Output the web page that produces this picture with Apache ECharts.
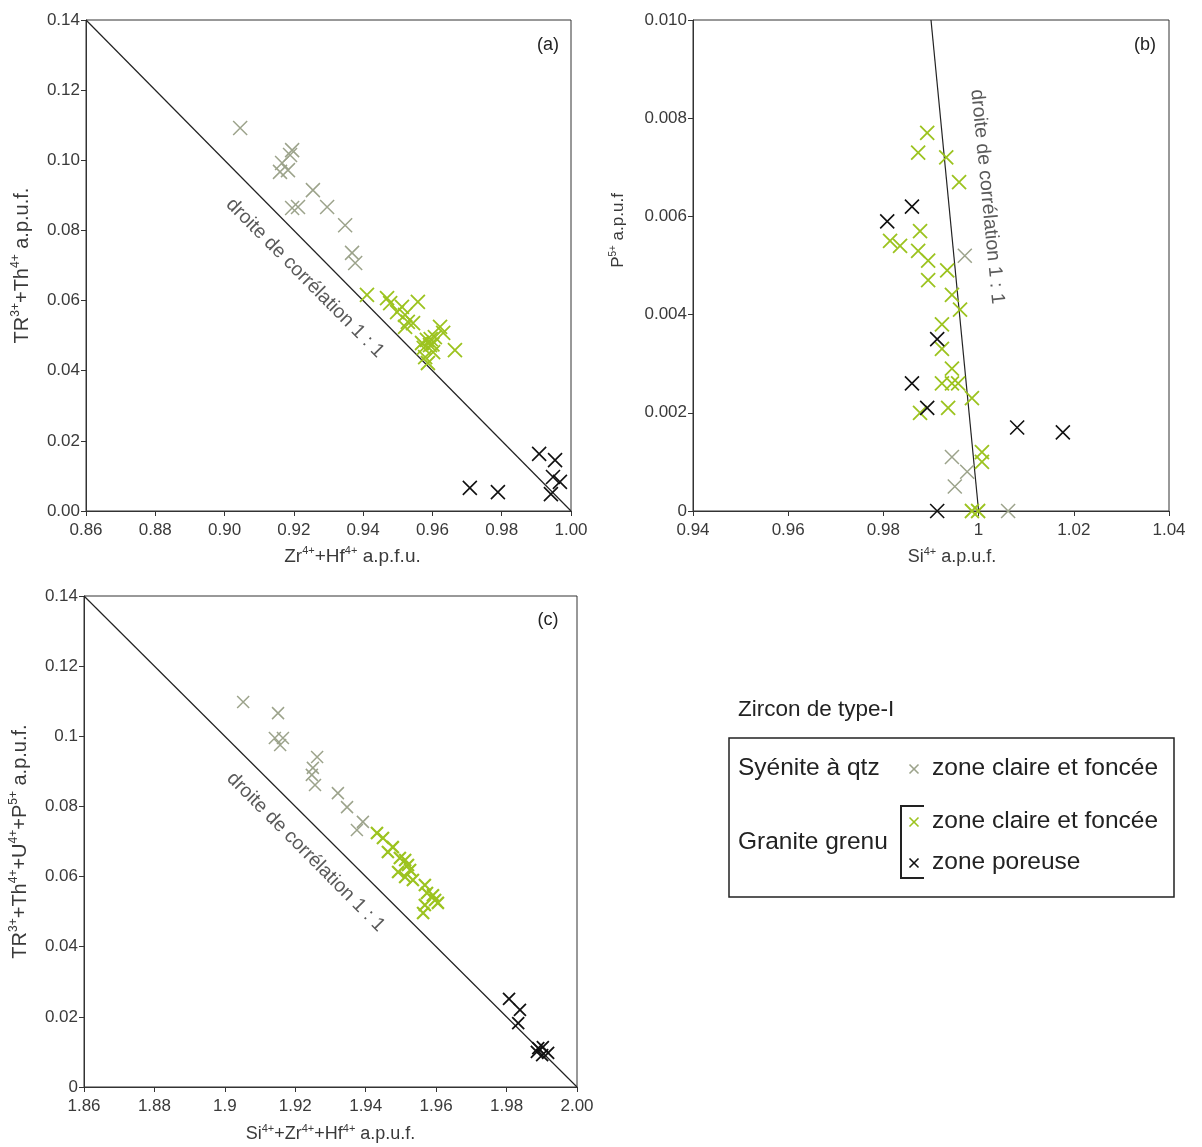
<!DOCTYPE html>
<html>
<head>
<meta charset="utf-8">
<script src="https://cdn.jsdelivr.net/npm/echarts@6/dist/echarts.min.js"></script>
<style>
html,body{margin:0;padding:0;background:#fff;}
#main{width:1202px;height:1147px;}
</style>
</head>
<body>
<div id="main"></div>
<script>
// ---------- DATA ----------
// Panel (a): Zr+Hf (x) vs TR+Th (y)
const aSyenite = [[0.9045,0.1092],[0.9195,0.1029],[0.9189,0.1015],[0.9166,0.0992],[0.9160,0.0967],[0.9183,0.0972],[0.9255,0.0915],[0.9195,0.0864],[0.9212,0.0867],[0.9296,0.0867],[0.9348,0.0815],[0.9368,0.0736],[0.9377,0.0707]];
const aGranite = [[0.9411,0.0616],[0.9469,0.0607],[0.9478,0.0593],[0.9512,0.0582],[0.9558,0.0596],[0.9498,0.0567],[0.9521,0.0559],[0.9529,0.0539],[0.9521,0.0525],[0.9544,0.0536],[0.9570,0.0479],[0.9584,0.0488],[0.9593,0.0473],[0.9607,0.0496],[0.9622,0.0525],[0.9602,0.0453],[0.9579,0.0439],[0.9587,0.0422],[0.9665,0.0459],[0.9631,0.0508],[0.9595,0.0490],[0.9575,0.0465],[0.9600,0.0475]];
const aPoreuse = [[0.9908,0.0163],[0.9954,0.0145],[0.9948,0.0097],[0.9968,0.0083],[0.9942,0.0048],[0.9708,0.0066],[0.9789,0.0054]];
const aLine = [[0.86,0.14],[1.00,0]];

// Panel (b): Si (x) vs P (y)
const bSyenite = [[0.9971,0.0052],[0.9944,0.0011],[0.9976,0.0008],[0.9950,0.0005],[1.0062,0]];
const bGranite = [[0.9892,0.0077],[0.9873,0.0073],[0.9932,0.0072],[0.9959,0.0067],[0.9877,0.0057],[0.9814,0.0055],[0.9835,0.0054],[0.9873,0.0053],[0.9894,0.0051],[0.9934,0.0049],[0.9894,0.0047],[0.9944,0.0044],[0.9961,0.0041],[0.9923,0.0038],[0.9923,0.0033],[0.9944,0.0029],[0.9923,0.0026],[0.9944,0.0026],[0.9957,0.0026],[0.9986,0.0023],[0.9877,0.0020],[0.9936,0.0021],[1.0007,0.0012],[1.0007,0.0010],[0.9986,0],[0.9999,0]];
const bPoreuse = [[0.9808,0.0059],[0.9860,0.0062],[0.9913,0.0035],[0.9860,0.0026],[0.9892,0.0021],[1.0081,0.0017],[1.0177,0.0016],[0.9913,0]];
const bLine = [[0.99,0.01],[1.00,0]];

// Panel (c): Si+Zr+Hf (x) vs TR+Th+U+P (y)
const cSyenite = [[1.9052,0.1098],[1.9151,0.1066],[1.9142,0.0995],[1.9165,0.0995],[1.9157,0.0975],[1.9262,0.0941],[1.9250,0.0910],[1.9247,0.0890],[1.9256,0.0861],[1.9321,0.0838],[1.9347,0.0798],[1.9375,0.0733],[1.9392,0.0756]];
const cGranite = [[1.9432,0.0724],[1.9449,0.0710],[1.9477,0.0684],[1.9463,0.0670],[1.9497,0.0653],[1.9512,0.0647],[1.9520,0.0633],[1.9526,0.0619],[1.9492,0.0613],[1.9512,0.0599],[1.9534,0.0590],[1.9568,0.0576],[1.9574,0.0553],[1.9591,0.0547],[1.9597,0.0533],[1.9568,0.0519],[1.9563,0.0496],[1.9605,0.0525]];
const cPoreuse = [[1.9807,0.0251],[1.9838,0.0220],[1.9833,0.0182],[1.9890,0.0111],[1.9901,0.0091],[1.9918,0.0097],[1.9886,0.0100],[1.9903,0.0114]];
const cLine = [[1.86,0.14],[2.00,0]];

// Tick labels
const aXTicks = ['0.86','0.88','0.90','0.92','0.94','0.96','0.98','1.00'];
const aYTicks = ['0.00','0.02','0.04','0.06','0.08','0.10','0.12','0.14'];
const bXTicks = ['0.94','0.96','0.98','1','1.02','1.04'];
const bYTicks = ['0','0.002','0.004','0.006','0.008','0.010'];
const cXTicks = ['1.86','1.88','1.9','1.92','1.94','1.96','1.98','2.00'];
const cYTicks = ['0','0.02','0.04','0.06','0.08','0.1','0.12','0.14'];

// Axis titles: [text, superscript] pieces
const aXTitle = [['Zr','4+'],['+Hf','4+'],[' a.p.f.u.','']];
const aYTitle = [['TR','3+'],['+Th','4+'],[' a.p.u.f.','']];
const bXTitle = [['Si','4+'],[' a.p.u.f.','']];
const bYTitle = [['P','5+'],[' a.p.u.f','']];
const cXTitle = [['Si','4+'],['+Zr','4+'],['+Hf','4+'],[' a.p.u.f.','']];
const cYTitle = [['TR','3+'],['+Th','4+'],['+U','4+'],['+P','5+'],[' a.p.u.f.','']];

// ---------- STYLE ----------
const FONT = 'Liberation Sans, Arial, sans-serif';
const GRAY = '#9ca38b';
const GREEN = '#9cc31f';
const BLACK = '#111111';
const CROSS = 'path://M0,0L10,10M0,10L10,0';
const TICKCOL = '#3a3a3a';

function richName(parts){
  return parts.map(p => '{n|' + p[0] + '}' + (p[1] ? '{s|' + p[1] + '}' : '')).join('');
}
function fmt(labels, min, step){
  return function(v){
    const i = Math.round((v - min) / step);
    return labels[i] !== undefined ? labels[i] : '';
  };
}
function axis(gi, min, max, step, labels, parts, fs, gap, pad, margin){
  return {
    type:'value', gridIndex:gi, min:min, max:max, interval:step,
    name:richName(parts), nameLocation:'middle', nameGap:gap,
    nameTextStyle:{fontFamily:FONT, fontSize:fs, color:TICKCOL, padding:pad||0,
      rich:{
        n:{fontFamily:FONT, fontSize:fs, color:TICKCOL, lineHeight:fs*1.2},
        s:{fontFamily:FONT, fontSize:Math.round(fs*0.6), color:TICKCOL, verticalAlign:'top', lineHeight:fs*0.9}
      }},
    axisLine:{show:true, onZero:false, lineStyle:{color:'#333', width:1}},
    axisTick:{show:true, inside:false, length:5, lineStyle:{color:'#333'}},
    axisLabel:{fontFamily:FONT, fontSize:17, color:TICKCOL, margin:margin, formatter:fmt(labels,min,step), showMinLabel:true, showMaxLabel:true},
    splitLine:{show:false}
  };
}
function scat(gi, data, color, size, bw){
  return {
    type:'scatter', xAxisIndex:gi, yAxisIndex:gi, data:data,
    symbol:CROSS, symbolSize:size,
    itemStyle:{color:color, borderColor:color, borderWidth:bw, opacity:1},
    emphasis:{disabled:true}, silent:true, z:3
  };
}
function refLine(gi, data){
  return {
    type:'line', xAxisIndex:gi, yAxisIndex:gi, data:data, symbol:'none',
    lineStyle:{color:'#222', width:1.2}, silent:true, z:2, animation:false
  };
}

const option = {
  animation:false,
  backgroundColor:'#fff',
  grid:[
    {left:86, top:20, width:485, height:491, show:true, borderColor:'#333', borderWidth:1, backgroundColor:'transparent'},
    {left:693, top:20, width:476, height:491, show:true, borderColor:'#333', borderWidth:1, backgroundColor:'transparent'},
    {left:84, top:596, width:493, height:491, show:true, borderColor:'#333', borderWidth:1, backgroundColor:'transparent'}
  ],
  xAxis:[
    axis(0, 0.86, 1.00, 0.02, aXTicks, aXTitle, 19, 34, [0,0,0,48], 11),
    axis(1, 0.94, 1.04, 0.02, bXTicks, bXTitle, 18, 35, [0,0,0,42], 11),
    axis(2, 1.86, 2.00, 0.02, cXTicks, cXTitle, 18, 36, 0, 11)
  ],
  yAxis:[
    axis(0, 0, 0.14, 0.02, aYTicks, aYTitle, 20, 52, 0, 6),
    axis(1, 0, 0.010, 0.002, bYTicks, bYTitle, 17, 64, [0,0,0,70], 6),
    axis(2, 0, 0.14, 0.02, cYTicks, cYTitle, 20, 52, 0, 6)
  ],
  series:[
    refLine(0, aLine),
    scat(0, aSyenite, GRAY, 14, 1.5),
    scat(0, aGranite, GREEN, 14, 1.8),
    scat(0, aPoreuse, BLACK, 14, 1.6),
    refLine(1, bLine),
    scat(1, bSyenite, GRAY, 14, 1.5),
    scat(1, bGranite, GREEN, 14, 1.8),
    scat(1, bPoreuse, BLACK, 14, 1.6),
    refLine(2, cLine),
    scat(2, cSyenite, GRAY, 12, 1.5),
    scat(2, cGranite, GREEN, 12, 2.2),
    scat(2, cPoreuse, BLACK, 12, 1.8)
  ]
};

const chart = echarts.init(document.getElementById('main'), null, {renderer:'canvas'});
chart.setOption(option);

// ---------- annotations ----------
const pa = chart.convertToPixel({gridIndex:0}, [0.9232, 0.0664]);
const pb = chart.convertToPixel({gridIndex:1}, [1.0018, 0.0064]);
const pc = chart.convertToPixel({gridIndex:2}, [1.9230, 0.0670]);
const labStyle = {text:'droite de corrélation 1 : 1', fill:'#5a5a5a', font:'19.5px ' + FONT, align:'center', verticalAlign:'middle'};

function crossG(cx, cy, s, color){
  return {type:'group', children:[
    {type:'line', shape:{x1:cx-s/2,y1:cy-s/2,x2:cx+s/2,y2:cy+s/2}, style:{stroke:color, lineWidth:1.6}},
    {type:'line', shape:{x1:cx-s/2,y1:cy+s/2,x2:cx+s/2,y2:cy-s/2}, style:{stroke:color, lineWidth:1.6}}
  ]};
}
function txt(x, y, t, size, color){
  return {type:'text', x:x, y:y, style:{text:t, fill:color||'#222', font:size+'px '+FONT, align:'left', verticalAlign:'middle'}};
}

chart.setOption({
  graphic:[
    {type:'text', x:pa[0], y:pa[1], rotation:-0.79, style:Object.assign({}, labStyle)},
    {type:'text', x:pb[0], y:pb[1], rotation:-1.473, style:Object.assign({}, labStyle)},
    {type:'text', x:pc[0], y:pc[1], rotation:-0.79, style:Object.assign({}, labStyle)},
    {type:'text', x:548, y:45, style:{text:'(a)', fill:'#222', font:'18px '+FONT, align:'center', verticalAlign:'middle'}},
    {type:'text', x:1145, y:45, style:{text:'(b)', fill:'#222', font:'18px '+FONT, align:'center', verticalAlign:'middle'}},
    {type:'text', x:548, y:620, style:{text:'(c)', fill:'#222', font:'18px '+FONT, align:'center', verticalAlign:'middle'}},
    // legend
    txt(738, 710, 'Zircon de type-I', 22.5),
    {type:'rect', shape:{x:729, y:738, width:445, height:159}, style:{fill:'none', stroke:'#222', lineWidth:1.5}},
    txt(738, 768, 'Syénite à qtz', 24.5),
    crossG(914, 769, 9, GRAY),
    txt(932, 768, 'zone claire et foncée', 24.5),
    {type:'polyline', shape:{points:[[924,806],[901,806],[901,878],[924,878]]}, style:{fill:'none', stroke:'#222', lineWidth:2}},
    crossG(914, 822, 9, GREEN),
    txt(932, 821, 'zone claire et foncée', 24.5),
    txt(738, 842, 'Granite grenu', 24.5),
    crossG(914, 863, 9, BLACK),
    txt(932, 862, 'zone poreuse', 24.5)
  ]
});
</script>
</body>
</html>
